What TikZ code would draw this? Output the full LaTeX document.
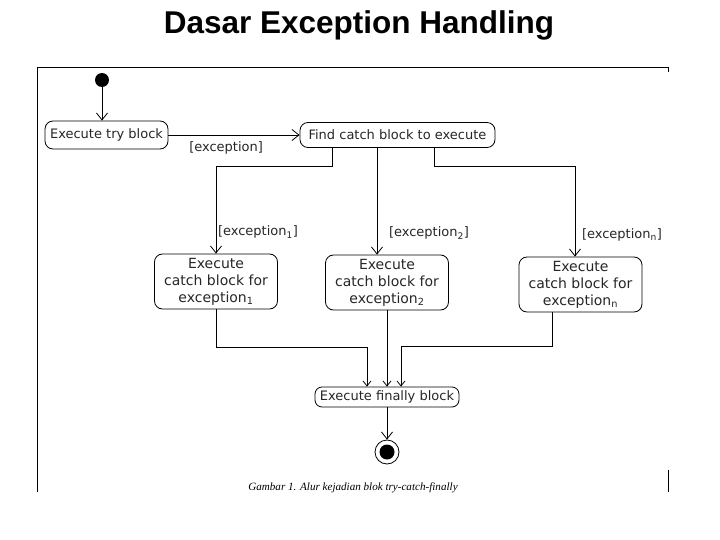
\documentclass[tikz,border=0pt]{standalone}
\usepackage{fontspec}
\usetikzlibrary{arrows.meta,calc}
\newfontfamily\actfont{DejaVu Sans}
\newfontfamily\titlefont{Liberation Sans}
\newfontfamily\capfont{Liberation Serif}
\begin{document}
\begin{tikzpicture}[x=1pt,y=-1pt,
  act/.style={draw, line width=0.8pt, rounded corners=8pt, align=center,
    font=\fontsize{13}{17}\selectfont\actfont, text=black!85, inner sep=1pt},
  catchbox/.style={act, minimum width=123pt, minimum height=55pt,
    font=\fontsize{14}{17}\selectfont\actfont},
  lbl/.style={font=\fontsize{13}{15}\selectfont\actfont, text=black!85, inner sep=0pt},
  arr/.style={line width=0.8pt, -{Straight Barb[length=7pt,width=11pt]}},
  arrs/.style={line width=0.8pt, -{Straight Barb[length=5pt,width=8pt]}},
  frame/.style={line width=1pt}]
\useasboundingbox (0,0) rectangle (720,540);
\node[font=\fontsize{31.5}{34}\selectfont\titlefont\bfseries] (title) at (359,25) {Dasar Exception Handling};
\draw[frame] (37,492) -- (37,68) -- (668,68) -- (668,72);
\draw[frame] (668,470) -- (668,492);

\node[circle, fill, minimum size=14pt, inner sep=0pt] (start) at (102,80) {};
\node[act, minimum width=123pt, minimum height=28pt] (try) at (106.5,135) {Execute try block};
\node[act, minimum width=195pt, minimum height=25pt] (find) at (397.5,135) {Find catch block to execute};
\node[catchbox] (c1) at (216,281.5) {Execute\\catch block for\\exception\textsubscript{1}};
\node[catchbox] (c2) at (387,282.5) {Execute\\catch block for\\exception\textsubscript{2}};
\node[catchbox] (cn) at (580.5,284.5) {Execute\\catch block for\\exception\textsubscript{n}};
\node[act, minimum width=144pt, minimum height=20pt, rounded corners=7pt] (fin) at (387,397) {Execute finally block};
\node[circle, draw, line width=0.8pt, minimum size=24pt, inner sep=0pt] (end) at (387,452) {};
\node[circle, fill, minimum size=15pt, inner sep=0pt] (endin) at (end) {};

\draw[arr] (start) -- (start |- try.north);
\draw[arr] (try.east) -- node[lbl, below=6pt, pos=0.44] (lex) {[exception]} (find.west);
\draw[arr] ([xshift=-65.5pt]find.south) -- ++(0,19) -| (c1.north);
\draw[arr] ([xshift=-20.5pt]find.south) -- ([xshift=-10pt]c2.north);
\draw[arr] ([xshift=37pt]find.south) -- ++(0,19) -| ([xshift=-5.5pt]cn.north);
\node[lbl] (l1) at (258,232) {[exception\textsubscript{1}]};
\node[lbl] (l2) at (429,233) {[exception\textsubscript{2}]};
\node[lbl] (ln) at (622,235) {[exception\textsubscript{n}]};

\draw[arrs] (c1.south) -- ++(0,38) -| ([xshift=-20pt]fin.north);
\draw[arrs] (c2.south) -- (fin.north);
\draw[arrs] ([xshift=-28.5pt]cn.south) -- ++(0,34) -| ([xshift=14pt]fin.north);
\draw[arr] (fin) -- (end);

\node[font=\fontsize{11.1}{13}\selectfont\capfont\itshape] (cap) at (353,488) {Gambar 1. Alur kejadian blok try-catch-finally};
\end{tikzpicture}
\end{document}
